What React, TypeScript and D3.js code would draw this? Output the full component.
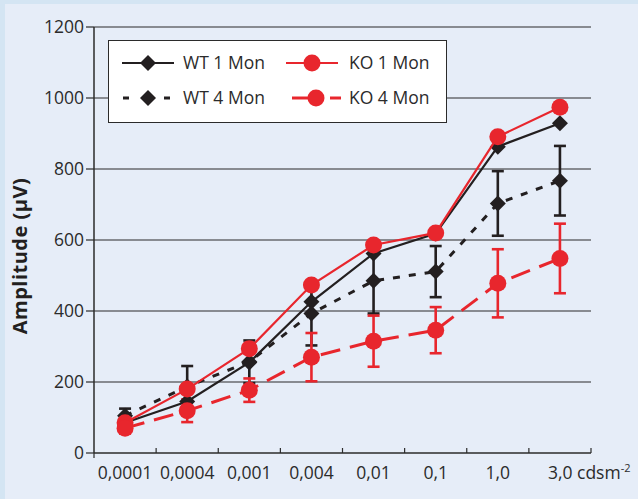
import React from 'react';
import * as d3 from 'd3';

const categories = ['0,0001', '0,0004', '0,001', '0,004', '0,01', '0,1', '1,0', '3,0'];
const yTicks = [0, 200, 400, 600, 800, 1000, 1200];

const wt1 = [85, 145, 255, 426, 562, 618, 863, 929];
const ko1 = [85, 180, 294, 473, 586, 620, 891, 974];
const wt4 = [105, 187, 257, 393, 485, 511, 703, 767];
const wt4Err = [20, 58, 60, 90, 92, 72, 91, 98];
const ko4 = [70, 119, 177, 270, 315, 346, 478, 548];
const ko4Err = [15, 32, 33, 68, 72, 65, 96, 98];

const RED = '#e8262d';
const BLACK = '#231f20';
const FONT = '"Open Sans", sans-serif';

type Series = {
  name: string;
  values: number[];
  err?: number[];
  color: string;
  dash: string | null;
  marker: 'diamond' | 'circle';
  width: number;
};

const series: Series[] = [
  { name: 'WT 1 Mon', values: wt1, color: BLACK, dash: null, marker: 'diamond', width: 2.2 },
  { name: 'WT 4 Mon', values: wt4, err: wt4Err, color: BLACK, dash: '7,9', marker: 'diamond', width: 3 },
  { name: 'KO 1 Mon', values: ko1, color: RED, dash: null, marker: 'circle', width: 2.2 },
  { name: 'KO 4 Mon', values: ko4, err: ko4Err, color: RED, dash: '20,10', marker: 'circle', width: 3 },
];

function Marker({ type, x, y, color }: { type: string; x: number; y: number; color: string }) {
  if (type === 'circle') return <circle cx={x} cy={y} r={8.5} fill={color} />;
  const s = 8;
  return <path d={`M${x},${y - s}L${x + s},${y}L${x},${y + s}L${x - s},${y}Z`} fill={color} />;
}

export default function App() {
  const W = 638;
  const H = 499;
  const margin = { top: 27, right: 47, bottom: 46, left: 94 };

  const x = d3.scaleBand<string>()
    .domain(categories)
    .range([margin.left, W - margin.right])
    .padding(0);

  const y = d3.scaleLinear()
    .domain([0, 1200])
    .range([H - margin.bottom, margin.top]);

  const cx = (c: string) => (x(c) as number) + x.bandwidth() / 2;

  const line = d3.line<number>()
    .x((d, i) => cx(categories[i]))
    .y(d => y(d));

  const legendRows = [
    [series[0], series[2]],
    [series[1], series[3]],
  ];

  return (
    <svg width={W} height={H} style={{ position: 'absolute', left: 0, top: 0 }}>
      <rect x={0} y={0} width={W} height={H} fill="#d4e5f3" />
      <rect x={5} y={4} width={W - 5} height={H - 4} fill="#e6edf8" />

      {yTicks.map(t => (
        <g key={t}>
          {t > 0 && <line x1={margin.left} x2={W - margin.right} y1={y(t)} y2={y(t)} stroke="#2b2b2b" strokeWidth={1.2} />}
          <line x1={margin.left - 8} x2={margin.left} y1={y(t)} y2={y(t)} stroke="#2b2b2b" strokeWidth={1.2} />
          <text x={margin.left - 10} y={y(t)} dy="0.36em" textAnchor="end" fontFamily={FONT} fontSize={17.5} fill="#2b2b2b">{t}</text>
        </g>
      ))}

      <line x1={margin.left} x2={margin.left} y1={margin.top} y2={y(0)} stroke="#2b2b2b" strokeWidth={1.5} />
      <line x1={margin.left} x2={W - margin.right} y1={y(0)} y2={y(0)} stroke="#2b2b2b" strokeWidth={1.5} />
      {categories.map(c => (
        <line key={c} x1={(x(c) as number) + x.bandwidth()} x2={(x(c) as number) + x.bandwidth()} y1={y(0)} y2={y(0) - 5} stroke="#2b2b2b" strokeWidth={1.2} />
      ))}
      <line x1={margin.left} x2={margin.left} y1={y(0)} y2={y(0) + 5} stroke="#2b2b2b" strokeWidth={1.2} />

      {categories.map((c, i) => i < categories.length - 1 ? (
        <text key={c} x={cx(c)} y={y(0) + 26} textAnchor="middle" fontFamily={FONT} fontSize={17.5} fill="#2b2b2b">{c}</text>
      ) : (
        <text key={c} x={cx(c) - 12} y={y(0) + 26} fontFamily={FONT} fontSize={17.5} fill="#2b2b2b">
          {c} cdsm<tspan dy={-7} fontSize={11}>-2</tspan>
        </text>
      ))}

      <text transform={`translate(27,${(margin.top + y(0)) / 2 + 16}) rotate(-90)`} textAnchor="middle" fontFamily={FONT} fontWeight="bold" fontSize={20} letterSpacing={0.5} fill="#231f20">Amplitude (µV)</text>

      {series.map(s => s.err ? (
        <g key={s.name + 'err'} stroke={s.color} strokeWidth={2.6}>
          {s.values.map((v, i) => {
            const px = cx(categories[i]);
            const e = s.err![i];
            return (
              <g key={i}>
                <line x1={px} x2={px} y1={y(v - e)} y2={y(v + e)} />
                <line x1={px - 6} x2={px + 6} y1={y(v - e)} y2={y(v - e)} />
                <line x1={px - 6} x2={px + 6} y1={y(v + e)} y2={y(v + e)} />
              </g>
            );
          })}
        </g>
      ) : null)}

      {series.map(s => (
        <g key={s.name}>
          <path d={line(s.values) as string} fill="none" stroke={s.color} strokeWidth={s.width} strokeDasharray={s.dash ?? undefined} />
          {s.values.map((v, i) => (
            <Marker key={i} type={s.marker} x={cx(categories[i])} y={y(v)} color={s.color} />
          ))}
        </g>
      ))}

      <rect x={108.5} y={40.5} width={338} height={82} fill="#ffffff" stroke="#2b2b2b" strokeWidth={1} />
      {legendRows.map((row, r) => (
        <g key={r} transform={`translate(0,${63 + r * 35})`}>
          {row.map((s, k) => {
            const x0 = k === 0 ? 122 : 286;
            const tx = k === 0 ? 183 : 349;
            const mx = x0 + 26;
            return (
              <g key={s.name}>
                {s.dash === null && <line x1={x0} x2={x0 + 52} y1={0} y2={0} stroke={s.color} strokeWidth={s.width} />}
                {s.dash !== null && s.marker === 'diamond' && (
                  <g stroke={s.color} strokeWidth={3}>
                    <line x1={x0 + 1} x2={x0 + 7} y1={0} y2={0} />
                    <line x1={x0 + 42} x2={x0 + 48} y1={0} y2={0} />
                  </g>
                )}
                {s.dash !== null && s.marker === 'circle' && (
                  <g stroke={s.color} strokeWidth={3}>
                    <line x1={x0 + 6} x2={x0 + 22} y1={0} y2={0} />
                    <line x1={x0 + 44} x2={x0 + 55} y1={0} y2={0} />
                  </g>
                )}
                <Marker type={s.marker} x={s.dash !== null && s.marker === 'circle' ? mx + 4 : mx} y={0} color={s.color} />
                <text x={tx} y={0} dy="0.36em" fontFamily={FONT} fontSize={17.5} fill="#2b2b2b">{s.name}</text>
              </g>
            );
          })}
        </g>
      ))}
    </svg>
  );
}
